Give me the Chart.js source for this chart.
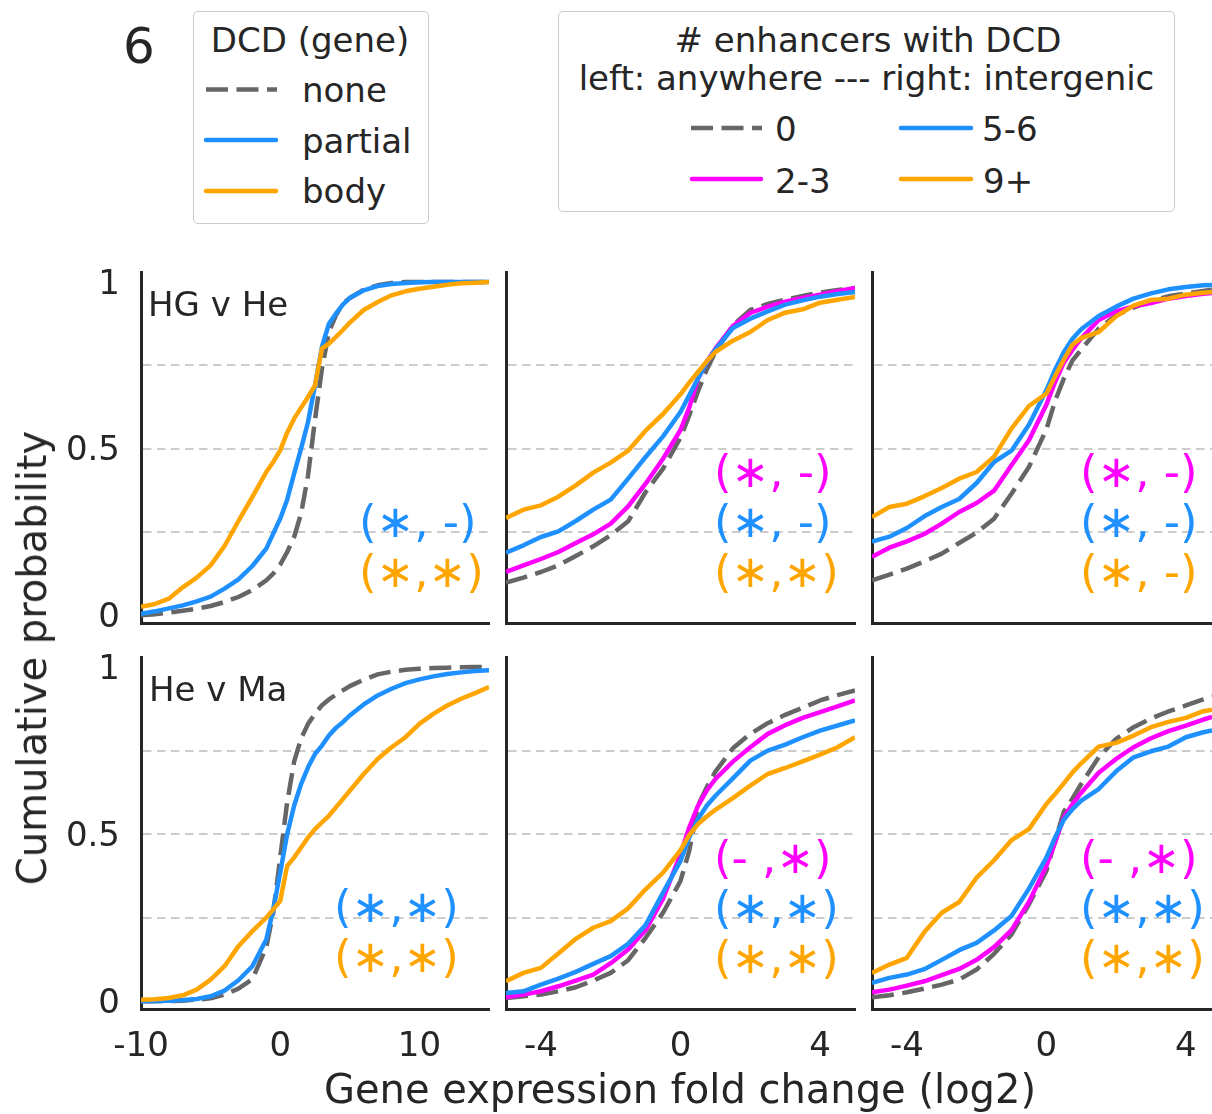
<!DOCTYPE html>
<html><head><meta charset="utf-8">
<script src="https://cdn.jsdelivr.net/npm/chart.js@4.4.0/dist/chart.umd.min.js"></script>
<style>
html,body{margin:0;padding:0;background:#fff}
body{width:1212px;height:1114px;overflow:hidden;position:relative;font-family:"DejaVu Sans",sans-serif;color:#262626}
canvas{position:absolute}
.t{position:absolute;white-space:nowrap;line-height:1}
.box{position:absolute;border:1px solid #cccccc;border-radius:5px;background:#fff}
</style></head><body>
<div class="box" style="left:193px;top:11px;width:234px;height:211px"></div>
<div class="box" style="left:558px;top:11px;width:615px;height:199px"></div>
<svg id="leg" width="1212" height="230" style="position:absolute;left:0;top:0"></svg>
<script>
// ---------------- DATA ----------------
const xGene  = [-10,-9,-8,-7,-6,-5,-4,-3,-2,-1,-0.5,0,0.5,1,1.5,2,2.5,3,3.5,4,4.5,5,6,7,8,9,10,11,12,13,14,15];
const xAny   = [-5,-4.5,-4,-3.5,-3,-2.5,-2,-1.5,-1,-0.5,0,0.25,0.5,0.75,1,1.5,2,2.5,3,3.5,4,4.5,5];
const xInter = [-5,-4.5,-4,-3.5,-3,-2.5,-2,-1.5,-1,-0.5,0,0.25,0.5,0.75,1,1.5,2,2.5,3,3.5,4,4.5,4.75];
const xTicksGene = [-10,0,10];
const xTicksEnh  = [-4,0,4];
const yTicks     = [0,0.25,0.5,0.75,1];
const yTickText  = ['0','','0.5','','1'];
const yGridVals  = [0.25,0.5,0.75];

// HG v He, DCD in gene
const hgHeGene_none    = [0,0.003,0.008,0.014,0.02,0.028,0.04,0.055,0.076,0.105,0.125,0.152,0.19,0.235,0.305,0.42,0.587,0.74,0.85,0.9,0.935,0.952,0.977,0.99,0.997,1,1,1,1,1,1,1];
const hgHeGene_partial = [0.005,0.012,0.021,0.03,0.042,0.056,0.08,0.108,0.148,0.2,0.245,0.29,0.347,0.425,0.5,0.58,0.69,0.805,0.875,0.905,0.932,0.952,0.975,0.988,0.994,0.997,0.999,1,1,1,1,1];
const hgHeGene_body    = [0.026,0.034,0.05,0.084,0.113,0.15,0.208,0.283,0.355,0.43,0.46,0.495,0.548,0.59,0.623,0.655,0.69,0.8,0.815,0.835,0.856,0.878,0.916,0.94,0.96,0.972,0.98,0.986,0.992,0.996,0.998,1];
// HG v He, enhancers anywhere
const hgHeAny_0   = [0.098,0.113,0.13,0.15,0.178,0.207,0.24,0.282,0.37,0.44,0.533,0.6,0.672,0.737,0.79,0.87,0.916,0.934,0.947,0.958,0.968,0.976,0.982];
const hgHeAny_23  = [0.13,0.15,0.169,0.19,0.217,0.243,0.275,0.327,0.395,0.47,0.556,0.623,0.71,0.76,0.8,0.868,0.907,0.926,0.941,0.952,0.962,0.972,0.982];
const hgHeAny_56  = [0.188,0.21,0.235,0.252,0.283,0.317,0.347,0.41,0.475,0.537,0.61,0.66,0.71,0.76,0.797,0.862,0.89,0.912,0.932,0.945,0.956,0.964,0.97];
const hgHeAny_9p  = [0.292,0.317,0.33,0.356,0.39,0.428,0.458,0.494,0.554,0.604,0.663,0.698,0.73,0.762,0.79,0.824,0.85,0.886,0.908,0.918,0.938,0.947,0.955];
// HG v He, enhancers intergenic
const hgHeInter_0  = [0.105,0.122,0.14,0.162,0.185,0.217,0.248,0.29,0.365,0.445,0.558,0.643,0.71,0.765,0.797,0.86,0.9,0.923,0.943,0.957,0.966,0.973,0.977];
const hgHeInter_23 = [0.176,0.203,0.222,0.244,0.275,0.31,0.337,0.374,0.45,0.525,0.632,0.7,0.758,0.797,0.831,0.886,0.912,0.927,0.937,0.95,0.958,0.965,0.967];
const hgHeInter_56 = [0.221,0.236,0.262,0.297,0.325,0.349,0.397,0.46,0.494,0.572,0.675,0.737,0.789,0.83,0.858,0.898,0.926,0.95,0.966,0.978,0.985,0.99,0.991];
const hgHeInter_9p = [0.295,0.325,0.335,0.357,0.382,0.41,0.43,0.476,0.56,0.628,0.665,0.717,0.767,0.812,0.832,0.85,0.897,0.929,0.946,0.95,0.962,0.968,0.97];
// He v Ma, DCD in gene
const heMaGene_none    = [0,0,0.001,0.002,0.005,0.009,0.02,0.038,0.066,0.162,0.265,0.43,0.595,0.717,0.786,0.83,0.86,0.886,0.903,0.917,0.93,0.943,0.962,0.978,0.986,0.992,0.995,0.997,0.998,0.999,1,1];
const heMaGene_partial = [0,0.001,0.002,0.004,0.007,0.015,0.032,0.063,0.105,0.185,0.275,0.385,0.5,0.585,0.65,0.7,0.74,0.765,0.795,0.818,0.835,0.855,0.888,0.915,0.935,0.952,0.963,0.972,0.979,0.984,0.988,0.99];
const heMaGene_body    = [0.005,0.006,0.01,0.018,0.035,0.065,0.105,0.165,0.21,0.25,0.275,0.3,0.405,0.43,0.46,0.49,0.515,0.535,0.555,0.58,0.605,0.63,0.68,0.725,0.76,0.79,0.83,0.86,0.885,0.905,0.922,0.94];
// He v Ma, enhancers anywhere
const heMaAny_0   = [0.01,0.015,0.02,0.03,0.042,0.062,0.085,0.123,0.19,0.265,0.36,0.45,0.585,0.64,0.687,0.757,0.8,0.832,0.857,0.878,0.9,0.916,0.93];
const heMaAny_23  = [0.012,0.02,0.03,0.045,0.062,0.08,0.114,0.155,0.213,0.307,0.44,0.52,0.585,0.63,0.665,0.717,0.76,0.8,0.826,0.848,0.865,0.882,0.9];
const heMaAny_56  = [0.025,0.03,0.05,0.068,0.088,0.112,0.135,0.172,0.228,0.325,0.42,0.49,0.545,0.585,0.615,0.667,0.72,0.75,0.768,0.79,0.81,0.825,0.84];
const heMaAny_9p  = [0.06,0.085,0.1,0.143,0.187,0.22,0.24,0.278,0.335,0.385,0.452,0.497,0.53,0.553,0.573,0.608,0.645,0.68,0.698,0.718,0.738,0.76,0.79];
// He v Ma, enhancers intergenic
const heMaInter_0  = [0.012,0.018,0.027,0.038,0.05,0.065,0.095,0.142,0.2,0.29,0.39,0.48,0.567,0.607,0.65,0.73,0.785,0.82,0.846,0.867,0.885,0.903,0.912];
const heMaInter_23 = [0.027,0.035,0.047,0.06,0.078,0.097,0.124,0.162,0.213,0.297,0.405,0.475,0.55,0.59,0.624,0.684,0.725,0.76,0.787,0.808,0.825,0.843,0.851];
const heMaInter_56 = [0.055,0.07,0.08,0.096,0.124,0.153,0.175,0.212,0.255,0.337,0.43,0.49,0.543,0.575,0.6,0.635,0.688,0.73,0.748,0.762,0.79,0.805,0.81];
const heMaInter_9p = [0.085,0.11,0.13,0.207,0.265,0.297,0.37,0.422,0.482,0.515,0.59,0.62,0.652,0.685,0.712,0.762,0.773,0.795,0.82,0.836,0.848,0.868,0.872];

const panelLabels = ['HG v He','He v Ma'];
const sigText = [
  [['(∗, -)','(∗,∗)'], ['(∗, -)','(∗, -)','(∗,∗)'], ['(∗, -)','(∗, -)','(∗, -)']],
  [['(∗,∗)','(∗,∗)'],  ['(- ,∗)','(∗,∗)','(∗,∗)'],  ['(- ,∗)','(∗,∗)','(∗,∗)']]
];

// ---------------- STYLE / LAYOUT ----------------
const C = {gray:'#666666', blue:'#1E90FF', orange:'#FFA500', magenta:'#FF00FF', text:'#262626'};
const DASH = [22,8.5];
const FONT = 'DejaVu Sans';
Chart.defaults.font.family = FONT;

const cols = [
  {left:141, right:489, min:-10, max:15,  xs:xGene,  ticks:xTicksGene},
  {left:506, right:855, min:-5,  max:5,   xs:xAny,   ticks:xTicksEnh},
  {left:872, right:1212,min:-5,  max:4.75,xs:xInter, ticks:xTicksEnh}
];
const rows = [{top:272, bottom:623}, {top:657, bottom:1009}];

const S = (ys, color, dashed) => ({ys, color, dashed});
const panels = [
  [ [S(hgHeGene_none,C.gray,1),S(hgHeGene_partial,C.blue),S(hgHeGene_body,C.orange)],
    [S(hgHeAny_0,C.gray,1),S(hgHeAny_23,C.magenta),S(hgHeAny_56,C.blue),S(hgHeAny_9p,C.orange)],
    [S(hgHeInter_0,C.gray,1),S(hgHeInter_23,C.magenta),S(hgHeInter_56,C.blue),S(hgHeInter_9p,C.orange)] ],
  [ [S(heMaGene_none,C.gray,1),S(heMaGene_partial,C.blue),S(heMaGene_body,C.orange)],
    [S(heMaAny_0,C.gray,1),S(heMaAny_23,C.magenta),S(heMaAny_56,C.blue),S(heMaAny_9p,C.orange)],
    [S(heMaInter_0,C.gray,1),S(heMaInter_23,C.magenta),S(heMaInter_56,C.blue),S(heMaInter_9p,C.orange)] ]
];
const sigColors = [
  [[C.blue,C.orange],[C.magenta,C.blue,C.orange],[C.magenta,C.blue,C.orange]],
  [[C.blue,C.orange],[C.magenta,C.blue,C.orange],[C.magenta,C.blue,C.orange]]
];
const sigLeft = [[359,714,1080],[334,714,1080]];
const sigTop  = [[[499,549],[449,499,549],[449,499,549]],[[884,934],[835,885,935],[835,885,935]]];

function zeroPad(s) { s.paddingTop = 0; s.paddingBottom = 0; s.paddingLeft = 0; s.paddingRight = 0; }

function makeChart(r, c) {
  const col = cols[c], row = rows[r];
  const YW = c === 0 ? 140 : 0;          // y-axis box width (holds labels)
  const XH = r === 1 ? 70 : 0;           // x-axis box height (holds labels)
  const PL = c === 0 ? 0 : 12, PR = 12, PT = 12, PB = r === 1 ? 0 : 12;
  const w = col.right - col.left + PL + YW + PR, h = row.bottom - row.top + PT + PB + XH;
  const cv = document.createElement('canvas');
  cv.width = w; cv.height = h;
  cv.style.left = (col.left - PL - YW) + 'px'; cv.style.top = (row.top - PT) + 'px';
  cv.style.width = w + 'px'; cv.style.height = h + 'px';
  document.body.appendChild(cv);
  const datasets = panels[r][c].slice().reverse().map(s => ({
    data: col.xs.map((x, i) => ({x, y: s.ys[i]})),
    borderColor: s.color, borderWidth: 4.5, borderDash: s.dashed ? DASH : [],
    borderCapStyle: 'butt', borderJoinStyle: 'round',
    pointRadius: 0, pointHoverRadius: 0, fill: false, tension: 0
  }));
  new Chart(cv, {
    type: 'line',
    data: {datasets},
    options: {
      responsive: false, animation: false, devicePixelRatio: 1, events: [],
      layout: {padding: {left: PL, right: PR, top: PT, bottom: PB}, autoPadding: false},
      plugins: {legend: {display: false}, tooltip: {enabled: false}},
      scales: {
        x: {
          type: 'linear', min: col.min, max: col.max,
          afterBuildTicks: s => { s.ticks = col.ticks.map(v => ({value: v})); },
          afterFit: s => { s.height = XH; zeroPad(s); },
          ticks: {display: r === 1, autoSkip: false, maxRotation: 0, minRotation: 0, padding: 18,
                  font: {family: FONT, size: 34}, color: C.text, callback: v => String(v)},
          grid: {display: true, drawTicks: false, color: 'rgba(0,0,0,0)'},
          border: {display: true, color: C.text, width: 3}
        },
        y: {
          type: 'linear', min: -0.023, max: 1.03,
          afterBuildTicks: s => { s.ticks = yTicks.map(v => ({value: v})); },
          afterFit: s => { s.width = YW; zeroPad(s); },
          ticks: {display: c === 0, autoSkip: false, padding: 21, labelOffset: 3,
                  font: {family: FONT, size: 34}, color: C.text,
                  callback: (v, i) => yTickText[i]},
          grid: {drawTicks: false, lineWidth: 2,
                 color: ctx => (ctx.tick && yGridVals.includes(ctx.tick.value)) ? '#cccccc' : 'rgba(0,0,0,0)'},
          border: {display: true, color: C.text, width: 3, dash: [8.5, 5.5]}
        }
      }
    }
  });
}

function addText(txt, left, top, size, color, extra) {
  const d = document.createElement('div');
  d.className = 't';
  d.textContent = txt;
  d.style.left = left + 'px'; d.style.top = top + 'px';
  d.style.fontSize = size + 'px'; d.style.color = color || C.text;
  if (extra) Object.assign(d.style, extra);
  document.body.appendChild(d);
  return d;
}

for (let r = 0; r < 2; r++) for (let c = 0; c < 3; c++) makeChart(r, c);

// panel labels and significance marks
addText(panelLabels[0], 148, 287, 34);
addText(panelLabels[1], 149, 672, 34);
for (let r = 0; r < 2; r++) for (let c = 0; c < 3; c++) {
  sigText[r][c].forEach((t, k) => addText(t, sigLeft[r][c], sigTop[r][c][k], 45, sigColors[r][c][k]));
}

// axis titles
addText('Gene expression fold change (log2)', 680, 1069, 40, C.text, {transform: 'translateX(-50%)'});
addText('Cumulative probability', 31.6, 657.5, 40, C.text, {transform: 'translate(-50%,-50%) rotate(-90deg)'});

// figure number and legends
addText('6', 123, 21, 50);
addText('DCD (gene)', 310, 23, 34, C.text, {transform: 'translateX(-50%)'});
addText('none', 302, 73, 34);
addText('partial', 302, 123.5, 34);
addText('body', 302, 174, 34);
addText('# enhancers with DCD', 868, 23, 34, C.text, {transform: 'translateX(-50%)'});
addText('left: anywhere --- right: intergenic', 866.5, 61, 34, C.text, {transform: 'translateX(-50%)'});
addText('0', 775, 112, 34);
addText('2-3', 775, 163.5, 34);
addText('5-6', 982, 112, 34);
addText('9+', 983, 163.5, 34);

const svg = document.getElementById('leg');
function legLine(x1, x2, y, color, dashed) {
  const l = document.createElementNS('http://www.w3.org/2000/svg', 'line');
  l.setAttribute('x1', x1); l.setAttribute('x2', x2);
  l.setAttribute('y1', y); l.setAttribute('y2', y);
  l.setAttribute('stroke', color); l.setAttribute('stroke-width', 4.5);
  l.setAttribute('stroke-linecap', dashed ? 'butt' : 'round');
  if (dashed) l.setAttribute('stroke-dasharray', DASH.join(' '));
  svg.appendChild(l);
}
legLine(206, 277, 89.5, C.gray, true);
legLine(206, 276, 140, C.blue);
legLine(206, 276, 191, C.orange);
legLine(691, 762, 128, C.gray, true);
legLine(692, 761, 179, C.magenta);
legLine(901, 971, 128, C.blue);
legLine(901, 971, 179, C.orange);
</script>
</body></html>
